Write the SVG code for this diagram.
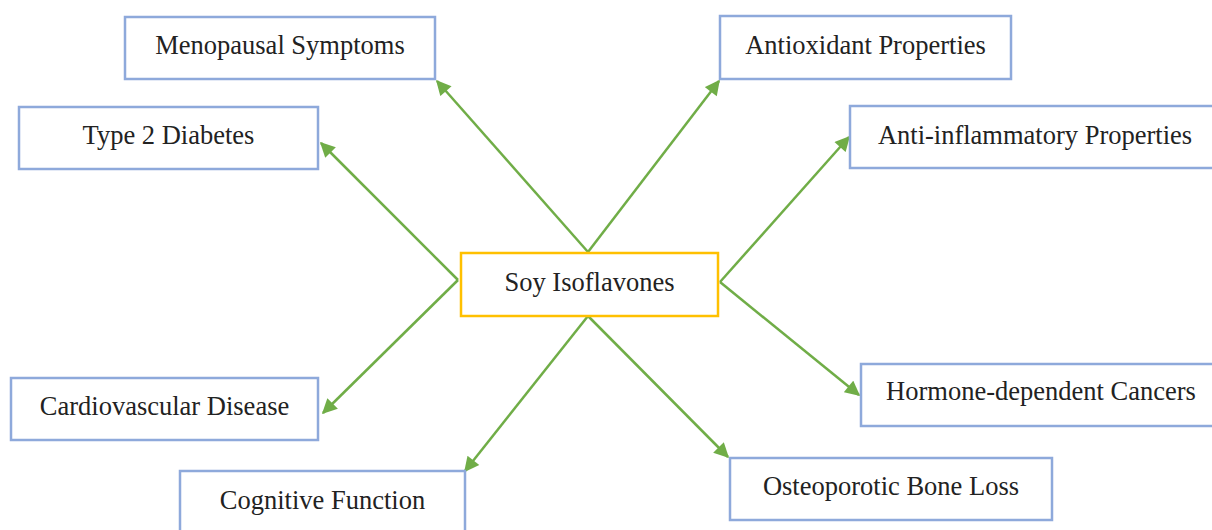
<svg xmlns="http://www.w3.org/2000/svg" width="1212" height="530" viewBox="0 0 1212 530">
<defs>
<marker id="ah" viewBox="0 0 10 10" refX="9" refY="5" markerWidth="6.5" markerHeight="6" markerUnits="strokeWidth" orient="auto">
<path d="M0,0 L10,5 L0,10 z" fill="#70AD47"/>
</marker>
<style>
.box{fill:#fff;stroke:#8EA9DB;stroke-width:2.5}
.center{fill:#fff;stroke:#FFC000;stroke-width:2.5}
.lbl{font-family:"Liberation Serif","Times New Roman",serif;font-size:26.5px;fill:#222;text-anchor:middle;dominant-baseline:central}
.con{stroke:#70AD47;stroke-width:2.5;fill:none;marker-end:url(#ah)}
</style>
</defs>
<rect width="1212" height="530" fill="#fff"/>
<g id="connectors">
<line class="con" x1="588" y1="252" x2="437" y2="81"/>
<line class="con" x1="588" y1="252" x2="719" y2="81"/>
<line class="con" x1="458" y1="280" x2="321" y2="143"/>
<line class="con" x1="458" y1="280" x2="323" y2="413"/>
<line class="con" x1="720" y1="282" x2="849" y2="137"/>
<line class="con" x1="720" y1="282" x2="859" y2="395"/>
<line class="con" x1="588" y1="316" x2="465" y2="471"/>
<line class="con" x1="588" y1="316" x2="728" y2="457"/>
</g>
<g id="n-center"><rect class="center" x="461" y="253" width="257" height="63"/><text class="lbl" x="589.5" y="282">Soy Isoflavones</text></g>
<g id="n-menopausal"><rect class="box" x="125" y="17" width="310" height="62"/><text class="lbl" x="280" y="45">Menopausal Symptoms</text></g>
<g id="n-antioxidant"><rect class="box" x="720" y="16" width="291" height="63"/><text class="lbl" x="865.5" y="45">Antioxidant Properties</text></g>
<g id="n-diabetes"><rect class="box" x="19" y="107" width="299" height="62"/><text class="lbl" x="168.5" y="135">Type 2 Diabetes</text></g>
<g id="n-antiinflammatory"><rect class="box" x="850" y="106" width="370" height="62"/><text class="lbl" x="1035" y="135">Anti-inflammatory Properties</text></g>
<g id="n-cardiovascular"><rect class="box" x="11" y="378" width="307" height="62"/><text class="lbl" x="164.5" y="406">Cardiovascular Disease</text></g>
<g id="n-cognitive"><rect class="box" x="180" y="471" width="285" height="70"/><text class="lbl" x="322.5" y="500">Cognitive Function</text></g>
<g id="n-hormone"><rect class="box" x="861" y="364" width="360" height="62"/><text class="lbl" x="1041" y="391">Hormone-dependent Cancers</text></g>
<g id="n-osteoporotic"><rect class="box" x="730" y="458" width="322" height="62"/><text class="lbl" x="891" y="486">Osteoporotic Bone Loss</text></g>
</svg>
